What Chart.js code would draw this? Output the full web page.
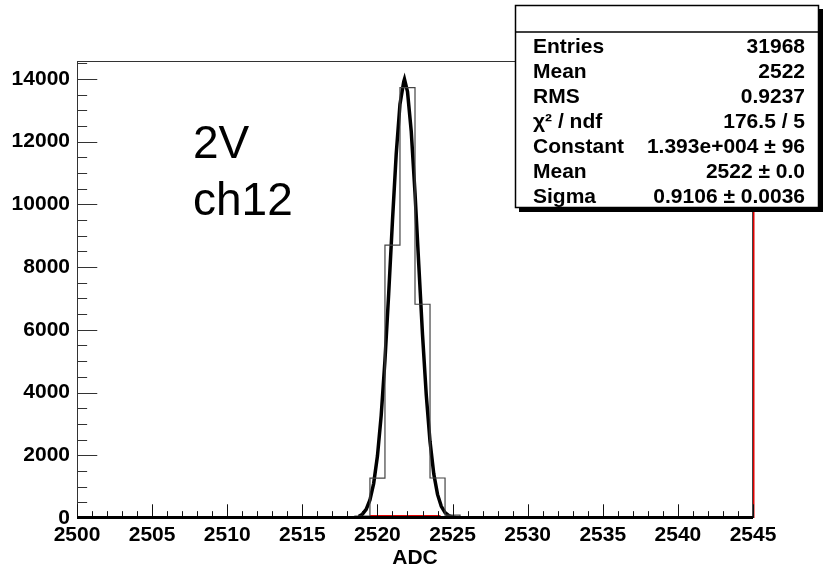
<!DOCTYPE html>
<html>
<head>
<meta charset="utf-8">
<script src="https://cdn.jsdelivr.net/npm/chart.js@4/dist/chart.umd.min.js"></script>
<style>
html,body{margin:0;padding:0;background:#fff;}
#wrap{width:827px;height:570px;}
</style>
</head>
<body>
<div id="wrap"><canvas id="c" width="827" height="570"></canvas></div>
<script>
// ---- data ----
const binCenters = [2519, 2520, 2521, 2522, 2523, 2524, 2525];
const binCounts  = [60, 1270, 8700, 13720, 6815, 1276, 90];
const binWidth = 1;

const fitX = [2518.75, 2519.0, 2519.25, 2519.5, 2519.75, 2520.0, 2520.25, 2520.5, 2520.75, 2521.0, 2521.25, 2521.5, 2521.75, 2521.8, 2522.0, 2522.25, 2522.5, 2522.75, 2523.0, 2523.25, 2523.5, 2523.75, 2524.0, 2524.25, 2524.5, 2524.75, 2525.0, 2525.25];
const fitY = [51, 123, 276, 573, 1105, 1975, 3272, 5027, 7166, 9470, 11608, 13195, 13909, 13990, 13598, 12329, 10367, 8084, 5847, 3921, 2438, 1407, 752, 373, 172, 73, 29, 11];

const redBaseX = [2519.5, 2524.2];
const redBaseY = [70, 70];

const xTicks = [2500, 2505, 2510, 2515, 2520, 2525, 2530, 2535, 2540, 2545];
const yTicks = [0, 2000, 4000, 6000, 8000, 10000, 12000, 14000];
const xRange = [2500, 2545];
const yRange = [0, 14570];
const xTitle = "ADC";

const statLabels = ["Entries", "Mean", "RMS", "\u03C7\u00B2 / ndf", "Constant", "Mean", "Sigma"];
const statValues = ["31968", "2522", "0.9237", "176.5 / 5", "1.393e+004 \u00B1 96", "2522 \u00B1 0.0", "0.9106 \u00B1 0.0036"];
const noteLines = ["2V", "ch12"];

// ---- build library structures ----
const histPts = [];
histPts.push({x: binCenters[0] - binWidth / 2, y: 0});
binCenters.forEach((c, i) => {
  histPts.push({x: c - binWidth / 2, y: binCounts[i]});
  histPts.push({x: c + binWidth / 2, y: binCounts[i]});
});
histPts.push({x: binCenters[binCenters.length - 1] + binWidth / 2, y: 0});
const fitPts = fitX.map((x, i) => ({x: x, y: fitY[i]}));
const redPts = redBaseX.map((x, i) => ({x: x, y: redBaseY[i]}));

const FONT = "Liberation Sans, Arial, Helvetica, sans-serif";

const overlay = {
  id: 'overlay',
  afterDatasetsDraw(chart) {
    const ctx = chart.ctx;
    const xs = chart.scales.x, ys = chart.scales.y;
    const a = chart.chartArea;
    ctx.save();
    ctx.strokeStyle = '#333';
    ctx.lineWidth = 1;
    ctx.beginPath();
    ctx.moveTo(a.left, a.top + 0.5); ctx.lineTo(a.right, a.top + 0.5);
    ctx.stroke();
    ctx.beginPath();
    ctx.moveTo(a.left + 0.5, a.top); ctx.lineTo(a.left + 0.5, a.bottom);
    ctx.stroke();
    ctx.strokeStyle = '#444';
    ctx.beginPath();
    ctx.moveTo(a.right - 0.5, a.top); ctx.lineTo(a.right - 0.5, a.bottom);
    ctx.stroke();
    ctx.strokeStyle = '#e00000';
    ctx.lineWidth = 1.5;
    ctx.beginPath();
    ctx.moveTo(a.right + 0.75, a.top); ctx.lineTo(a.right + 0.75, a.bottom);
    ctx.stroke();
    const h = a.bottom - a.top, w = a.right - a.left;
    const yMaj = 0.03 * w, yMin = yMaj / 2;
    const xMaj = 0.03 * h, xMin = xMaj / 2;
    ctx.strokeStyle = '#333';
    ctx.lineWidth = 1;
    const yStep = yTicks[1] - yTicks[0];
    for (let v = 0; v <= yRange[1]; v += yStep / 4) {
      const p = Math.round(ys.getPixelForValue(v)) + 0.5;
      const len = (v % yStep === 0) ? yMaj : yMin;
      ctx.beginPath(); ctx.moveTo(a.left, p); ctx.lineTo(a.left + len, p); ctx.stroke();
    }
    const xStep = xTicks[1] - xTicks[0];
    ctx.strokeStyle = '#111';
    for (let v = xRange[0]; v <= xRange[1]; v += 1) {
      const p = Math.round(xs.getPixelForValue(v)) + 0.5;
      const len = ((v - xRange[0]) % xStep === 0) ? xMaj : xMin;
      ctx.beginPath(); ctx.moveTo(p, a.bottom); ctx.lineTo(p, a.bottom - len); ctx.stroke();
    }
    ctx.strokeStyle = '#000';
    ctx.lineWidth = 3;
    ctx.beginPath();
    ctx.moveTo(a.left, a.bottom - 0.5); ctx.lineTo(a.right, a.bottom - 0.5);
    ctx.stroke();
    ctx.restore();
  },
  afterDraw(chart) {
    const ctx = chart.ctx;
    ctx.save();
    ctx.fillStyle = '#000';
    ctx.font = '46px ' + FONT;
    ctx.textAlign = 'left';
    ctx.textBaseline = 'alphabetic';
    ctx.fillText(noteLines[0], 193, 158);
    ctx.fillText(noteLines[1], 193, 215);
    const bx = 515, by = 5, bw = 304, bh = 203;
    ctx.fillStyle = '#000';
    ctx.fillRect(bx + 4, by + 4, bw, bh);
    ctx.fillStyle = '#fff';
    ctx.fillRect(bx, by, bw, bh);
    ctx.strokeStyle = '#000';
    ctx.lineWidth = 1.5;
    ctx.strokeRect(bx + 0.5, by + 0.5, bw - 1, bh - 1);
    ctx.beginPath();
    ctx.moveTo(bx, 32); ctx.lineTo(bx + bw, 32);
    ctx.stroke();
    ctx.font = 'bold 21px ' + FONT;
    ctx.fillStyle = '#000';
    statLabels.forEach((t, i) => {
      const yb = 53 + i * 25;
      ctx.textAlign = 'left';
      ctx.fillText(t, 533, yb);
      ctx.textAlign = 'right';
      ctx.fillText(statValues[i], 805, yb);
    });
    ctx.restore();
  }
};

new Chart(document.getElementById('c'), {
  type: 'scatter',
  data: {
    datasets: [
      {label: 'hist', data: histPts, showLine: true, borderColor: '#444', borderWidth: 1.2, pointRadius: 0, fill: false, tension: 0},
      {label: 'fit', data: fitPts, showLine: true, borderColor: '#000', borderWidth: 3.5, pointRadius: 0, fill: false, tension: 0},
      {label: 'base', data: redPts, showLine: true, borderColor: '#e00000', borderWidth: 1.5, pointRadius: 0, fill: false}
    ]
  },
  options: {
    responsive: false,
    devicePixelRatio: 1,
    animation: false,
    layout: {padding: {left: 0, top: 61, right: 74, bottom: 0}},
    plugins: {legend: {display: false}, tooltip: {enabled: false}},
    scales: {
      x: {
        type: 'linear', min: xRange[0], max: xRange[1],
        afterFit(s) { s.height = 52; },
        grid: {display: false, drawTicks: false},
        border: {display: false},
        afterBuildTicks(s) { s.ticks = xTicks.map(v => ({value: v})); },
        ticks: {autoSkip: false, maxRotation: 0, padding: 5, color: '#000',
          font: {family: FONT, size: 21, weight: 'bold'},
          callback: v => String(v)},
        title: {display: true, text: xTitle, color: '#000', padding: {top: 0, bottom: -1},
          font: {family: FONT, size: 21, weight: 'bold'}}
      },
      y: {
        type: 'linear', min: yRange[0], max: yRange[1],
        afterFit(s) { s.width = 77; },
        grid: {display: false, drawTicks: false},
        border: {display: false},
        afterBuildTicks(s) { s.ticks = yTicks.map(v => ({value: v})); },
        ticks: {autoSkip: false, padding: 7, color: '#000',
          font: {family: FONT, size: 21, weight: 'bold'},
          callback: v => String(v)}
      }
    }
  },
  plugins: [overlay]
});
</script>
</body>
</html>
